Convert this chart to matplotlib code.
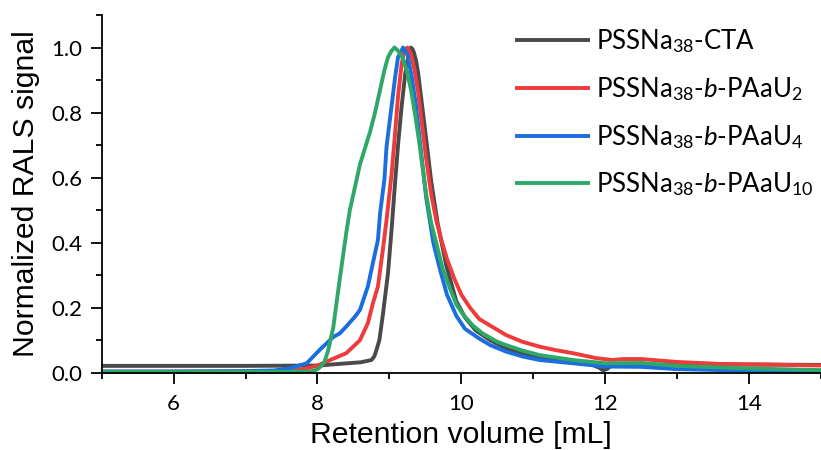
import matplotlib
matplotlib.use("Agg")
import matplotlib.pyplot as plt
from matplotlib.ticker import MultipleLocator

# ---------------- data ----------------
x_cta = [5.0, 6.0, 7.0, 8.0, 8.3, 8.6, 8.75, 8.79, 8.82, 8.86, 8.91, 8.98, 9.03, 9.07,
         9.12, 9.17, 9.22, 9.26, 9.28, 9.30, 9.32, 9.34, 9.37, 9.40, 9.45, 9.51, 9.58,
         9.67, 9.79, 9.93, 10.05, 10.2, 10.4, 10.62, 10.85, 11.1, 11.55, 11.8, 11.92,
         11.97, 12.03, 12.1, 12.5, 13.0, 14.0, 15.0]
y_cta = [0.021, 0.021, 0.021, 0.022, 0.027, 0.032, 0.039, 0.05, 0.07, 0.10, 0.18, 0.306,
         0.44, 0.56, 0.70, 0.82, 0.92, 0.97, 0.99, 1.0, 0.995, 0.985, 0.96, 0.92, 0.83,
         0.72, 0.59, 0.46, 0.33, 0.22, 0.17, 0.13, 0.10, 0.075, 0.06, 0.047, 0.035,
         0.026, 0.015, 0.007, 0.012, 0.024, 0.025, 0.025, 0.025, 0.024]

x_u2 = [5.0, 6.0, 7.0, 7.6, 7.85, 8.0, 8.125, 8.25, 8.40, 8.52, 8.59, 8.70, 8.77, 8.84,
        8.91, 8.96, 9.03, 9.08, 9.12, 9.17, 9.21, 9.25, 9.30, 9.35, 9.40, 9.45, 9.51,
        9.58, 9.65, 9.72, 9.80, 9.90, 10.0, 10.12, 10.25, 10.4, 10.62, 10.85, 11.09,
        11.3, 11.55, 11.87, 12.1, 12.25, 12.5, 13.0, 13.6, 14.3, 15.0]
y_u2 = [0.003, 0.003, 0.004, 0.006, 0.013, 0.022, 0.034, 0.046, 0.06, 0.085, 0.10, 0.152,
        0.213, 0.265, 0.38, 0.47, 0.61, 0.74, 0.85, 0.95, 0.99, 1.0, 0.98, 0.93, 0.86,
        0.77, 0.66, 0.55, 0.47, 0.41, 0.35, 0.29, 0.24, 0.20, 0.165, 0.145, 0.116,
        0.095, 0.08, 0.07, 0.06, 0.045, 0.039, 0.042, 0.042, 0.033, 0.027, 0.025, 0.022]

x_u4 = [5.0, 6.0, 7.0, 7.4, 7.62, 7.85, 8.03, 8.22, 8.31, 8.40, 8.52, 8.59, 8.70, 8.77,
        8.84, 8.87, 8.93, 8.96, 9.03, 9.08, 9.12, 9.19, 9.25, 9.31, 9.37, 9.42, 9.51,
        9.61, 9.70, 9.80, 9.93, 10.05, 10.25, 10.4, 10.62, 10.85, 11.09, 11.55, 12.0,
        12.5, 13.0, 13.6, 14.3, 15.0]
y_u4 = [0.004, 0.004, 0.005, 0.007, 0.014, 0.029, 0.07, 0.11, 0.121, 0.142, 0.172, 0.193,
        0.265, 0.337, 0.408, 0.49, 0.593, 0.695, 0.82, 0.91, 0.97, 1.0, 0.98, 0.91,
        0.82, 0.72, 0.54, 0.40, 0.32, 0.24, 0.175, 0.135, 0.105, 0.085, 0.065, 0.05,
        0.039, 0.029, 0.019, 0.018, 0.011, 0.008, 0.005, 0.003]

x_u10 = [5.0, 6.0, 7.0, 7.6, 7.9, 7.95, 8.0, 8.05, 8.10, 8.15, 8.22, 8.28, 8.33, 8.40,
         8.45, 8.52, 8.59, 8.66, 8.73, 8.80, 8.87, 8.93, 8.98, 9.03, 9.07, 9.12, 9.18,
         9.24, 9.30, 9.36, 9.42, 9.51, 9.58, 9.65, 9.74, 9.84, 9.93, 10.02, 10.16,
         10.3, 10.5, 10.62, 10.85, 11.09, 11.55, 12.0, 12.5, 13.0, 14.0, 15.0]
y_u10 = [0.002, 0.002, 0.002, 0.003, 0.004, 0.006, 0.011, 0.02, 0.035, 0.07, 0.14, 0.24,
         0.32, 0.43, 0.50, 0.57, 0.64, 0.69, 0.74, 0.80, 0.87, 0.93, 0.97, 0.99, 1.0,
         0.99, 0.97, 0.93, 0.87, 0.79, 0.70, 0.55, 0.46, 0.40, 0.32, 0.26, 0.21, 0.18,
         0.145, 0.12, 0.095, 0.085, 0.068, 0.054, 0.039, 0.029, 0.03, 0.021, 0.013, 0.008]

labels = [r"PSSNa$_{38}$-CTA",
          r"PSSNa$_{38}$-$\mathit{b}$-PAaU$_{2}$",
          r"PSSNa$_{38}$-$\mathit{b}$-PAaU$_{4}$",
          r"PSSNa$_{38}$-$\mathit{b}$-PAaU$_{10}$"]
colors = ["#4a4a4a", "#ee3b3b", "#1a6ee0", "#2ea868"]

xticks = [6, 8, 10, 12, 14]
yticks = [0.0, 0.2, 0.4, 0.6, 0.8, 1.0]

# ---------------- style ----------------
plt.rcParams["font.family"] = ["Lato", "DejaVu Sans"]
plt.rcParams["mathtext.fontset"] = "custom"
plt.rcParams["mathtext.rm"] = "Lato"
plt.rcParams["mathtext.it"] = "Lato:italic"
plt.rcParams["mathtext.bf"] = "Lato:bold"

W, H = 821, 450
fig = plt.figure(figsize=(W / 100, H / 100), dpi=100)
ax = fig.add_axes([101.7 / W, 77.3 / H, (W - 101.7) / W, 357.7 / H])

lines = []
for (xs, ys), lab, c in zip([(x_cta, y_cta), (x_u2, y_u2), (x_u4, y_u4), (x_u10, y_u10)],
                            labels, colors):
    ln, = ax.plot(xs, ys, color=c, lw=2.8, label=lab, clip_on=False,
                  solid_joinstyle="round", solid_capstyle="butt")
    lines.append(ln)

ax.set_xlim(5, 15)
ax.set_ylim(0, 1.1)
ax.set_xticks(xticks)
ax.set_yticks(yticks)
ax.set_yticklabels([f"{v:.1f}" for v in yticks])
ax.xaxis.set_minor_locator(MultipleLocator(1))
ax.yaxis.set_minor_locator(MultipleLocator(0.1))

for s in ["top", "right"]:
    ax.spines[s].set_visible(False)
for s in ["left", "bottom"]:
    ax.spines[s].set_linewidth(1.3)

ax.tick_params(which="major", direction="out", length=8, width=1.3, labelsize=16)
ax.tick_params(which="minor", direction="out", length=4.3, width=1.3)
ax.tick_params(axis="x", which="major", pad=7)
ax.tick_params(axis="y", which="major", pad=6)

ax.set_xlabel("Retention volume [mL]", fontsize=21.7, family="Liberation Sans")
ax.set_ylabel("Normalized RALS signal", fontsize=21.7, family="Liberation Sans")
ax.xaxis.set_label_coords(0.5, -(421 - 372.7) / 357.7)
ax.yaxis.set_label_coords(-(101.7 - 40) / (W - 101.7), 0.5)

# legend: one entry per row to fix the row positions
row_y = [40, 88.3, 135.7, 182.7]
for i, (ln, lab) in enumerate(zip(lines, labels)):
    leg = ax.legend([ln], [lab], loc="center left",
                    bbox_to_anchor=(515 / W, 1 - (row_y[i] + 1) / H),
                    bbox_transform=fig.transFigure, frameon=False, fontsize=18.5,
                    handlelength=2.92, handletextpad=0.24, borderpad=0,
                    borderaxespad=0)
    for h in leg.get_lines():
        h.set_linewidth(2.8)
    if i < len(lines) - 1:
        ax.add_artist(leg)

fig.savefig("out.png", dpi=100)
